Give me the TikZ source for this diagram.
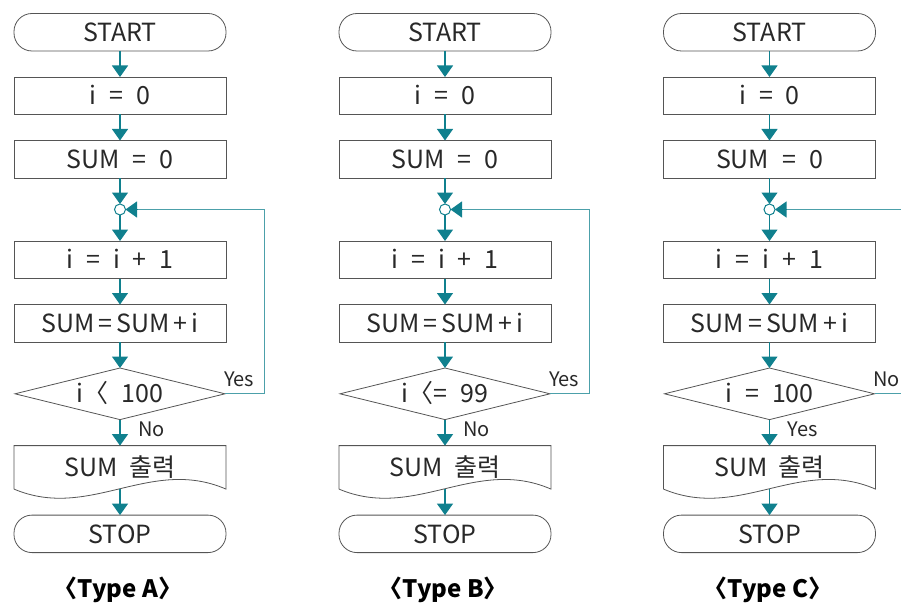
\documentclass[tikz,border=0pt]{standalone}
\usepackage{fontspec}
\setmainfont{Noto Sans CJK KR}
\usetikzlibrary{arrows.meta,positioning}
\definecolor{flowteal}{RGB}{16,128,142}
\definecolor{boxgray}{RGB}{85,85,85}
\definecolor{inkgray}{RGB}{40,40,40}
\newcommand{\flowgap}{\hspace{13pt}}

\begin{document}
\begin{tikzpicture}[x=1pt, y=-1pt,
    node distance=26pt,
    every node/.style={inner sep=0pt, outer sep=0pt, text height=18.3pt, text depth=0pt},
    terminal/.style={rectangle, rounded corners=18pt, draw=boxgray, line width=0.8pt, minimum width=212pt, minimum height=37.5pt, text=inkgray, font=\fontsize{25}{28}\selectfont},
    block/.style={rectangle, draw=boxgray, line width=0.8pt, minimum width=212pt, minimum height=37.5pt, text=inkgray, font=\fontsize{25}{28}\selectfont},
    junction/.style={circle, draw=flowteal, fill=white, line width=1pt, minimum size=11pt, text height=, text depth=},
    decision/.style={rectangle, minimum width=210pt, minimum height=51.6pt, text=inkgray, font=\fontsize{25}{28}\selectfont},
    output/.style={rectangle, minimum width=212pt, minimum height=43.5pt, text=inkgray, font=\fontsize{25}{28}\selectfont},
    outline/.style={draw=boxgray, line width=0.8pt},
    flow/.style={draw=flowteal, line width=1.2pt, -{Triangle[width=16pt,length=11.5pt]}},
    back/.style={draw=flowteal!75, line width=1pt},
    answer/.style={text=inkgray, inner sep=1pt, anchor=base west, text height=, text depth=, font=\fontsize{20}{23}\selectfont},
    caption/.style={text=black, text height=, text depth=, font=\fontsize{24}{27}\selectfont\bfseries}
]
    \useasboundingbox (0,0) rectangle (901,604);
    \clip (0,0) rectangle (901,604);

    % Type A
    \node[terminal] (startA) at (120,32.25) {START};
    \node[block, below=of startA] (initA) {i\flowgap=\flowgap0};
    \node[block, below=of initA] (zeroA) {SUM\flowgap=\flowgap0};
    \node[junction, below=of zeroA] (joinA) {};
    \node[block, below=of joinA] (incA) {i\flowgap=\flowgap i\flowgap+\flowgap1};
    \node[block, below=of incA] (addA) {SUM\,=\,SUM\,+\,i};
    \node[decision, below=of addA] (testA) {i〈\flowgap100};
    \node[output, below=of testA] (printA) {SUM \ 출력};
    \node[terminal, below=of printA] (stopA) {STOP};
    \node[caption] (typeA) at (118,590) {〈Type A〉};

    \draw[outline] (testA.north) -- (testA.east) -- (testA.south) -- (testA.west) -- cycle;
    \draw[outline] (printA.south west) -- (printA.north west) -- (printA.north east) -- (printA.south east)
        .. controls +(-76,-33) and +(76,32) .. (printA.south west);
    \draw[flow] (startA) -- (initA);
    \draw[flow] (initA) -- (zeroA);
    \draw[flow] (zeroA) -- (joinA);
    \draw[flow] (joinA) -- (incA);
    \draw[flow] (incA) -- (addA);
    \draw[flow] (addA) -- (testA.north);
    \draw[flow] (testA.south) -- (printA);
    \draw[flow] (printA.south) -- (stopA);
    \draw[back] (testA.east) -- ++(39,0) |- ([xshift=11pt]joinA.east);
    \draw[flow] ([xshift=11pt]joinA.east) -- (joinA.east);
    \node[answer] at ([shift={(-2,-7)}]testA.east) {Yes};
    \node[answer] at ([shift={(17,17)}]testA.south) {No};

    % Type B
    \node[terminal] (startB) at (445,32.25) {START};
    \node[block, below=of startB] (initB) {i\flowgap=\flowgap0};
    \node[block, below=of initB] (zeroB) {SUM\flowgap=\flowgap0};
    \node[junction, below=of zeroB] (joinB) {};
    \node[block, below=of joinB] (incB) {i\flowgap=\flowgap i\flowgap+\flowgap1};
    \node[block, below=of incB] (addB) {SUM\,=\,SUM\,+\,i};
    \node[decision, below=of addB] (testB) {i〈=\flowgap99};
    \node[output, below=of testB] (printB) {SUM \ 출력};
    \node[terminal, below=of printB] (stopB) {STOP};
    \node[caption] (typeB) at (443,590) {〈Type B〉};

    \draw[outline] (testB.north) -- (testB.east) -- (testB.south) -- (testB.west) -- cycle;
    \draw[outline] (printB.south west) -- (printB.north west) -- (printB.north east) -- (printB.south east)
        .. controls +(-76,-33) and +(76,32) .. (printB.south west);
    \draw[flow] (startB) -- (initB);
    \draw[flow] (initB) -- (zeroB);
    \draw[flow] (zeroB) -- (joinB);
    \draw[flow] (joinB) -- (incB);
    \draw[flow] (incB) -- (addB);
    \draw[flow] (addB) -- (testB.north);
    \draw[flow] (testB.south) -- (printB);
    \draw[flow] (printB.south) -- (stopB);
    \draw[back] (testB.east) -- ++(39,0) |- ([xshift=11pt]joinB.east);
    \draw[flow] ([xshift=11pt]joinB.east) -- (joinB.east);
    \node[answer] at ([shift={(-2,-7)}]testB.east) {Yes};
    \node[answer] at ([shift={(17,17)}]testB.south) {No};

    % Type C
    \node[terminal] (startC) at (769.5,32.25) {START};
    \node[block, below=of startC] (initC) {i\flowgap=\flowgap0};
    \node[block, below=of initC] (zeroC) {SUM\flowgap=\flowgap0};
    \node[junction, below=of zeroC] (joinC) {};
    \node[block, below=of joinC] (incC) {i\flowgap=\flowgap i\flowgap+\flowgap1};
    \node[block, below=of incC] (addC) {SUM\,=\,SUM\,+\,i};
    \node[decision, below=of addC] (testC) {i\flowgap=\flowgap100};
    \node[output, below=of testC] (printC) {SUM \ 출력};
    \node[terminal, below=of printC] (stopC) {STOP};
    \node[caption] (typeC) at (768,590) {〈Type C〉};

    \draw[outline] (testC.north) -- (testC.east) -- (testC.south) -- (testC.west) -- cycle;
    \draw[outline] (printC.south west) -- (printC.north west) -- (printC.north east) -- (printC.south east)
        .. controls +(-76,-33) and +(76,32) .. (printC.south west);
    \draw[flow] (startC) -- (initC);
    \draw[flow] (initC) -- (zeroC);
    \draw[flow] (zeroC) -- (joinC);
    \draw[flow] (joinC) -- (incC);
    \draw[flow] (incC) -- (addC);
    \draw[flow] (addC) -- (testC.north);
    \draw[flow] (testC.south) -- (printC);
    \draw[flow] (printC.south) -- (stopC);
    \draw[back] (testC.east) -- ++(39,0) |- ([xshift=11pt]joinC.east);
    \draw[flow] ([xshift=11pt]joinC.east) -- (joinC.east);
    \node[answer] at ([shift={(-2,-7)}]testC.east) {No};
    \node[answer] at ([shift={(17,17)}]testC.south) {Yes};
\end{tikzpicture}
\end{document}
